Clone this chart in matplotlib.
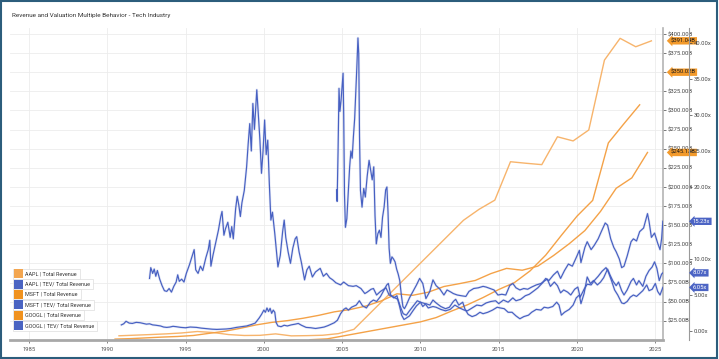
import matplotlib.pyplot as plt
from matplotlib.patches import Rectangle
import numpy as np

plt.rcParams['font.family'] = ['Roboto', 'DejaVu Sans']

# ---- Total revenue, $B (plotted at fiscal year end) ----
aapl_rev_t = [1990.75, 1991.75, 1992.75, 1993.75, 1994.75, 1995.75, 1996.75, 1997.75,
              1998.75, 1999.75, 2000.75, 2001.75, 2002.75, 2003.75, 2004.75, 2005.75,
              2012.75, 2013.75, 2014.75, 2015.75, 2016.75, 2017.75, 2018.75, 2019.75,
              2020.75, 2021.75, 2022.75, 2023.75, 2024.75]
aapl_rev = [5.5, 6.3, 7.1, 8.0, 9.2, 11.1, 9.8, 7.1,
            5.9, 6.1, 8.0, 5.4, 5.7, 6.2, 8.3, 13.9,
            156.5, 170.9, 182.8, 233.0, 231.0, 229.2, 265.6, 260.2,
            274.5, 365.8, 394.3, 383.3, 391.0]

msft_rev_t = [1990.5, 1991.5, 1992.5, 1993.5, 1994.5, 1995.5, 1996.5, 1997.5, 1998.5,
              1999.5, 2000.5, 2001.5, 2002.5, 2003.5, 2004.5, 2005.5, 2006.5, 2007.5,
              2008.5, 2009.5, 2010.5, 2011.5, 2012.5, 2013.5, 2014.5, 2015.5, 2016.5,
              2017.5, 2018.5, 2019.5, 2020.5, 2021.5, 2022.5, 2023.5, 2024.5]
msft_rev = [1.2, 1.8, 2.8, 3.8, 4.6, 5.9, 8.7, 11.4, 15.3,
            19.7, 23.0, 25.3, 28.4, 32.2, 36.8, 39.8, 44.3, 51.1,
            60.4, 58.4, 62.5, 69.9, 73.7, 77.8, 86.8, 93.6, 91.2,
            96.6, 110.4, 125.8, 143.0, 168.1, 198.3, 211.9, 245.1]

googl_rev_t = [2002.95, 2004.05, 2010.0, 2011.0, 2012.0, 2013.0, 2014.0, 2015.0, 2016.0,
               2017.0, 2018.0, 2019.0, 2020.0, 2021.0, 2022.0, 2023.0, 2024.0]
googl_rev = [0.4, 1.5, 23.7, 29.3, 37.9, 46.0, 55.5, 66.0, 75.0,
             90.3, 110.9, 136.8, 161.9, 182.5, 257.6, 282.8, 307.4]

# ---- TEV / Total revenue, x ----
aapl_tev_t = [1990.90, 1991.05, 1991.20, 1991.40, 1991.60, 1991.85, 1992.10, 1992.30, 1992.50,
              1992.70, 1992.90, 1993.10, 1993.40, 1993.60, 1993.80, 1994.00, 1994.20, 1994.40,
              1994.70, 1995.00, 1995.30, 1995.70, 1996.00, 1996.35, 1996.70, 1997.00, 1997.30,
              1997.60, 1997.90, 1998.25, 1998.60, 1998.90, 1999.20, 1999.45, 1999.70, 1999.85,
              2000.00, 2000.10, 2000.20, 2000.30, 2000.40, 2000.50, 2000.60, 2000.70, 2000.78,
              2000.90, 2001.10, 2001.30, 2001.50, 2001.75, 2002.00, 2002.20, 2002.40, 2002.70,
              2003.00, 2003.30, 2003.60, 2003.85, 2004.10, 2004.30, 2004.50, 2004.70, 2004.90,
              2005.10, 2005.25, 2005.40, 2005.60, 2005.90, 2006.10, 2006.30, 2006.55, 2006.80,
              2007.00, 2007.20, 2007.45, 2007.65, 2007.85, 2007.95, 2008.10, 2008.30, 2008.50,
              2008.65, 2008.80, 2008.95, 2009.10, 2009.30, 2009.55, 2009.75, 2010.00, 2010.15,
              2010.35, 2010.60, 2010.80, 2011.00, 2011.30, 2011.60, 2011.85, 2012.10, 2012.25,
              2012.45, 2012.70, 2012.85, 2013.05, 2013.30, 2013.55, 2013.80, 2014.00, 2014.30,
              2014.60, 2014.90, 2015.10, 2015.35, 2015.60, 2015.85, 2016.10, 2016.35, 2016.60,
              2016.90, 2017.10, 2017.40, 2017.70, 2017.90, 2018.15, 2018.45, 2018.70, 2018.85,
              2019.00, 2019.20, 2019.50, 2019.75, 2019.95, 2020.15, 2020.25, 2020.45, 2020.65,
              2020.85, 2021.05, 2021.30, 2021.50, 2021.70, 2021.95, 2022.10, 2022.30, 2022.50,
              2022.65, 2022.85, 2023.00, 2023.20, 2023.45, 2023.60, 2023.80, 2023.95, 2024.20,
              2024.40, 2024.60, 2024.80, 2024.95, 2025.10, 2025.25, 2025.40, 2025.48]
aapl_tev = [0.85, 1.0, 1.35, 1.1, 1.05, 1.2, 1.15, 1.05, 0.95,
            1.0, 0.85, 0.8, 0.7, 0.55, 0.5, 0.55, 0.65, 0.6,
            0.5, 0.45, 0.55, 0.5, 0.4, 0.33, 0.25, 0.22, 0.25,
            0.28, 0.35, 0.5, 0.6, 0.7, 0.9, 1.1, 1.8, 2.3,
            2.9, 2.6, 3.2, 2.7, 3.15, 2.45, 2.9, 2.6, 1.2,
            0.7, 0.6, 0.8, 0.7, 0.85, 0.95, 1.05, 0.8, 0.5,
            0.45, 0.35, 0.45, 0.55, 0.75, 0.95, 1.15, 1.5, 2.4,
            3.0, 3.2, 2.9, 3.3, 3.6, 4.2, 3.5, 3.2, 4.0,
            4.3, 4.1, 4.8, 5.6, 6.4, 6.6, 5.0, 4.6, 4.9,
            3.6, 2.2, 1.6, 1.8, 2.1, 2.9, 3.5, 4.0, 3.4,
            3.8, 3.6, 4.3, 3.9, 3.4, 3.1, 3.3, 4.1, 4.4,
            3.6, 4.0, 3.0, 2.3, 2.0, 2.2, 2.6, 2.4, 2.6,
            2.9, 3.3, 3.2, 3.1, 2.6, 2.6, 2.1, 1.7, 2.0,
            2.2, 2.6, 3.0, 2.9, 3.3, 3.2, 3.4, 4.0, 3.6,
            2.2, 2.6, 3.0, 3.6, 4.6, 5.0, 3.8, 5.2, 7.5,
            6.6, 7.0, 6.4, 6.8, 7.4, 8.6, 7.8, 6.9, 6.3,
            6.8, 5.6, 5.0, 5.7, 6.9, 7.3, 6.4, 7.0, 6.2,
            7.6, 8.4, 8.9, 9.6, 8.7, 7.0, 7.9, 8.07]

msft_tev_t = [1992.70, 1992.78, 1992.90, 1993.00, 1993.10, 1993.20, 1993.35, 1993.50, 1993.65,
              1993.80, 1993.95, 1994.10, 1994.25, 1994.40, 1994.50, 1994.60, 1994.75, 1994.90,
              1995.05, 1995.25, 1995.45, 1995.55, 1995.65, 1995.80, 1995.95, 1996.10, 1996.30,
              1996.45, 1996.55, 1996.62, 1996.75, 1996.90, 1997.10, 1997.25, 1997.33, 1997.45,
              1997.55, 1997.70, 1997.85, 1997.95, 1998.05, 1998.20, 1998.30, 1998.40, 1998.50,
              1998.60, 1998.75, 1998.90, 1999.00, 1999.10, 1999.20, 1999.30, 1999.40, 1999.55,
              1999.65, 1999.75, 1999.85, 1999.95, 2000.05, 2000.15, 2000.25, 2000.35, 2000.45,
              2000.55, 2000.70, 2000.90, 2001.05, 2001.20, 2001.30, 2001.40, 2001.55, 2001.70,
              2001.85, 2002.00, 2002.10, 2002.25, 2002.40, 2002.60, 2002.75, 2002.90, 2003.10,
              2003.30, 2003.60, 2003.80, 2004.00, 2004.20, 2004.40, 2004.60, 2004.90, 2005.10,
              2005.40, 2005.70, 2005.90, 2006.20, 2006.45, 2006.60, 2006.85, 2007.00, 2007.20,
              2007.45, 2007.80, 2008.00, 2008.30, 2008.55, 2008.75, 2008.90, 2009.10, 2009.30,
              2009.55, 2009.80, 2010.00, 2010.30, 2010.50, 2010.80, 2011.00, 2011.30, 2011.60,
              2011.90, 2012.20, 2012.50, 2012.80, 2013.00, 2013.30, 2013.60, 2013.90, 2014.20,
              2014.50, 2014.80, 2015.00, 2015.30, 2015.60, 2015.90, 2016.10, 2016.40, 2016.70,
              2016.95, 2017.20, 2017.50, 2017.80, 2018.00, 2018.20, 2018.50, 2018.75, 2018.95,
              2019.20, 2019.45, 2019.70, 2019.95, 2020.15, 2020.25, 2020.50, 2020.65, 2020.90,
              2021.10, 2021.35, 2021.55, 2021.80, 2021.95, 2022.15, 2022.35, 2022.50, 2022.70,
              2022.85, 2023.00, 2023.20, 2023.45, 2023.60, 2023.80, 2024.00, 2024.25, 2024.50,
              2024.60, 2024.75, 2024.95, 2025.15, 2025.30, 2025.40, 2025.48]
msft_tev = [7.3, 8.8, 8.0, 8.6, 7.6, 8.4, 7.2, 6.3, 5.6,
            5.5, 5.9, 5.4, 6.2, 6.8, 7.8, 6.9, 7.2, 6.8,
            8.0, 9.2, 10.6, 11.3, 8.5, 8.0, 9.0, 8.4, 10.2,
            11.3, 12.6, 9.0, 10.5, 12.0, 14.0, 15.9, 16.6, 13.3,
            14.2, 15.1, 13.0, 14.5, 12.8, 17.0, 18.7, 17.5, 15.9,
            17.8, 19.5, 22.8, 26.0, 28.8, 25.0, 31.6, 28.0, 33.5,
            30.0, 26.5, 21.9, 25.0, 29.3, 24.5, 26.5, 20.5, 15.4,
            16.5, 13.5, 8.9, 10.5, 13.8, 15.4, 13.0, 11.0, 9.4,
            11.5, 12.8, 13.1, 11.0, 9.5, 7.1, 8.5, 9.0, 7.5,
            8.2, 8.7, 7.6, 8.0, 7.4, 7.1, 6.7, 6.4, 6.8,
            6.3, 6.2, 6.3, 5.9, 5.2, 5.4, 5.8, 5.9, 5.0,
            5.5, 6.0, 5.0, 4.7, 4.4, 3.2, 2.4, 2.2, 2.8,
            3.5, 4.2, 4.0, 3.8, 3.2, 3.4, 3.3, 3.0, 2.8,
            3.0, 3.6, 3.2, 2.9, 2.8, 3.2, 3.6, 3.5, 3.9,
            4.1, 4.2, 3.8, 4.3, 4.0, 4.6, 4.2, 4.4, 4.9,
            5.1, 5.5, 6.0, 6.7, 7.3, 7.0, 7.8, 8.3, 7.3,
            8.4, 9.3, 9.0, 10.2, 11.2, 9.5, 11.6, 12.4, 11.3,
            11.9, 12.8, 13.8, 15.0, 14.7, 12.8, 11.6, 11.0, 10.0,
            8.8, 9.0, 10.4, 12.4, 12.8, 12.5, 13.8, 14.3, 16.3,
            15.2, 13.0, 13.6, 12.2, 11.3, 12.8, 15.23]

googl_tev_t = [2004.65, 2004.68, 2004.74, 2004.80, 2004.86, 2004.93, 2005.00, 2005.06, 2005.10,
               2005.15, 2005.21, 2005.30, 2005.40, 2005.48, 2005.56, 2005.64, 2005.72, 2005.80,
               2005.87, 2005.94, 2006.01, 2006.06, 2006.11, 2006.17, 2006.27, 2006.38, 2006.48,
               2006.60, 2006.72, 2006.82, 2006.92, 2007.02, 2007.10, 2007.18, 2007.28, 2007.38,
               2007.48, 2007.58, 2007.68, 2007.78, 2007.86, 2007.93, 2008.00, 2008.08, 2008.18,
               2008.28, 2008.38, 2008.48, 2008.58, 2008.68, 2008.78, 2008.88, 2008.98, 2009.10,
               2009.30, 2009.50, 2009.75, 2009.95, 2010.15, 2010.35, 2010.60, 2010.80, 2011.00,
               2011.25, 2011.50, 2011.70, 2011.95, 2012.10, 2012.35, 2012.60, 2012.90, 2013.10,
               2013.40, 2013.70, 2014.00, 2014.20, 2014.45, 2014.70, 2014.95, 2015.20, 2015.45,
               2015.70, 2015.90, 2016.10, 2016.35, 2016.60, 2016.85, 2017.10, 2017.40, 2017.70,
               2017.95, 2018.10, 2018.30, 2018.55, 2018.75, 2018.95, 2019.15, 2019.40, 2019.60,
               2019.85, 2020.05, 2020.20, 2020.45, 2020.65, 2020.90, 2021.10, 2021.35, 2021.60,
               2021.85, 2022.00, 2022.20, 2022.40, 2022.60, 2022.85, 2023.00, 2023.20, 2023.40,
               2023.60, 2023.80, 2024.00, 2024.20, 2024.45, 2024.60, 2024.80, 2025.00, 2025.15,
               2025.30, 2025.40, 2025.48]
googl_tev = [19.6, 18.0, 25.0, 33.7, 30.5, 32.0, 34.0, 35.8, 30.0,
             19.0, 14.4, 15.6, 19.5, 22.8, 25.0, 24.0, 27.0, 29.5,
             33.0, 36.7, 40.7, 38.5, 27.0, 19.5, 17.2, 19.8, 18.6,
             21.5, 23.7, 22.3, 21.0, 22.8, 16.0, 12.1, 13.5, 14.0,
             13.0, 15.8, 17.2, 19.6, 20.0, 16.5, 11.5, 9.4, 10.3,
             10.0, 9.6, 8.6, 7.9, 7.0, 5.0, 3.4, 3.1, 3.6,
             4.6, 5.4, 6.4, 7.3, 6.6, 4.5, 5.5, 7.1, 6.3,
             5.8, 5.0, 5.7, 5.4, 5.2, 5.0, 4.9, 4.8, 5.5,
             5.9, 6.0, 6.2, 6.1, 5.9, 5.7, 5.0, 5.1, 5.0,
             6.3, 6.6, 6.0, 5.7, 5.9, 5.8, 6.1, 6.4, 6.6,
             7.0, 7.2, 6.2, 6.8, 6.3, 5.3, 5.7, 5.4, 5.0,
             5.8, 6.1, 4.7, 5.8, 6.5, 6.4, 7.0, 7.6, 8.3,
             8.8, 8.2, 7.0, 5.7, 5.0, 3.9, 3.8, 4.1, 4.7,
             5.0, 4.8, 5.2, 5.6, 6.4, 5.6, 5.8, 6.6, 5.5,
             5.0, 5.6, 6.05]

legend_labels = ['AAPL | Total Revenue', 'AAPL | TEV/ Total Revenue',
                 'MSFT | Total Revenue', 'MSFT | TEV/ Total Revenue',
                 'GOOGL | Total Revenue', 'GOOGL | TEV/ Total Revenue']
legend_colors = ['#f3a650', '#4a64c2', '#f0921f', '#4a64c2', '#f0921f', '#4a64c2']

rev_flags = [('$391.04B', 391.04), ('$350.02B', 350.02), ('$245.13B', 245.13)]
tev_flags = [('15.23x', 15.23), ('8.07x', 8.07), ('6.05x', 6.05)]

W, H = 719, 359
fig = plt.figure(figsize=(W / 100, H / 100), dpi=100)
ax = fig.add_axes([10 / W, 19 / H, 653 / W, 312 / H])
ax2 = ax.twinx()

orange_l = '#f7b46c'
orange = '#f4a248'
blue = '#4760c2'

ax.plot(aapl_rev_t, aapl_rev, color=orange_l, lw=1.0)
ax.plot(msft_rev_t, msft_rev, color=orange, lw=1.0)
ax.plot(googl_rev_t, googl_rev, color=orange, lw=1.0)

# multiples: faint halo under each line, like the dense daily series
for t, v in [(aapl_tev_t, aapl_tev), (msft_tev_t, msft_tev), (googl_tev_t, googl_tev)]:
    ax2.plot(t, v, color=blue, lw=1.8, alpha=0.15, solid_joinstyle='round')
    ax2.plot(t, v, color=blue, lw=0.85)

# revenue axis
ax.set_xlim(1983.79, 2025.49)
ax.set_ylim(0, 407.8)
ax.set_xticks(range(1985, 2026, 5))
ax.set_xticklabels([str(y) for y in range(1985, 2026, 5)])
rev_ticks = np.arange(25, 401, 25)
ax.set_yticks(rev_ticks)
# $350.00B sits fully under the $350.02B tag in the reference
ax.set_yticklabels(['' if v == 350 else '${:.2f}B'.format(v) for v in rev_ticks])
ax.yaxis.tick_right()
ax.tick_params(axis='y', length=2, width=0.5, pad=1.5, labelsize=4.2,
               colors='#444444')
ax.tick_params(axis='x', length=2, width=0.5, pad=3, labelsize=4.2,
               colors='#555555')
ax.grid(color='#ececec', lw=0.6)
ax.set_axisbelow(True)
for s in ['top', 'left']:
    ax.spines[s].set_visible(False)
ax.spines['right'].set_color('#b4b4b4')
ax.spines['right'].set_linewidth(1.2)
ax.spines['bottom'].set_color('#a8a8a8')
ax.spines['bottom'].set_linewidth(2.0)

# multiple axis
ax2.set_ylim(-1.25, 42.08)
tev_ticks = np.arange(0, 41, 5)
ax2.set_yticks(tev_ticks)
# 15.00x is hidden by the 15.23x tag
ax2.set_yticklabels(['' if v == 15 else '{:.2f}x'.format(v) for v in tev_ticks])
ax2.tick_params(axis='y', length=2, width=0.5, pad=1.5, labelsize=4.2,
                colors='#444444')
for s in ['top', 'left', 'bottom']:
    ax2.spines[s].set_visible(False)
ax2.spines['right'].set_position(('outward', 18.7))
ax2.spines['right'].set_color('#9a9a9a')
ax2.spines['right'].set_linewidth(0.8)


def flag(axis, xfrac, y, text, fc, tc):
    axis.text(xfrac, y, text, transform=axis.get_yaxis_transform(),
              ha='left', va='center', fontsize=4.2, color=tc, zorder=10,
              clip_on=False,
              bbox=dict(boxstyle='larrow,pad=0.2', fc=fc, ec='none'))


for txt, v in rev_flags:
    flag(ax, 1.012, v, txt, '#f39a2b', '#1a1a1a')
for txt, v in tev_flags:
    flag(ax2, 1.046, v, txt, '#4c64c4', '#ffffff')

# title
fig.text(12 / W, 1 - 16 / H, 'Revenue and Valuation Multiple Behavior - Tech Industry',
         fontsize=4.6, color='#333333', va='center')

# legend: one small framed box per entry
ys = [273.5, 284.0, 294.3, 304.7, 315.2, 325.7]
texts = []
for lab, yc in zip(legend_labels, ys):
    t = fig.text(25 / W, 1 - yc / H, lab, fontsize=3.9, color='#333333',
                 va='center', zorder=5)
    texts.append(t)
fig.canvas.draw()
r = fig.canvas.get_renderer()
for t, c, yc in zip(texts, legend_colors, ys):
    bb = t.get_window_extent(r)
    fig.patches.append(Rectangle((13 / W, (H - yc - 5) / H), (bb.x1 + 3 - 13) / W, 10 / H,
                                 transform=fig.transFigure, fc='white', ec='#dddddd',
                                 lw=0.5, zorder=3))
    fig.patches.append(Rectangle((14 / W, (H - yc - 4.5) / H), 9 / W, 9 / H,
                                 transform=fig.transFigure, fc=c, ec='none', zorder=4))

# outer frame
fig.patches.append(Rectangle((0.0015, 0.003), 0.996, 0.993, transform=fig.transFigure,
                             fill=False, ec='#2c5d7c', lw=1.5, zorder=20))

fig.savefig('out.png', dpi=100)
